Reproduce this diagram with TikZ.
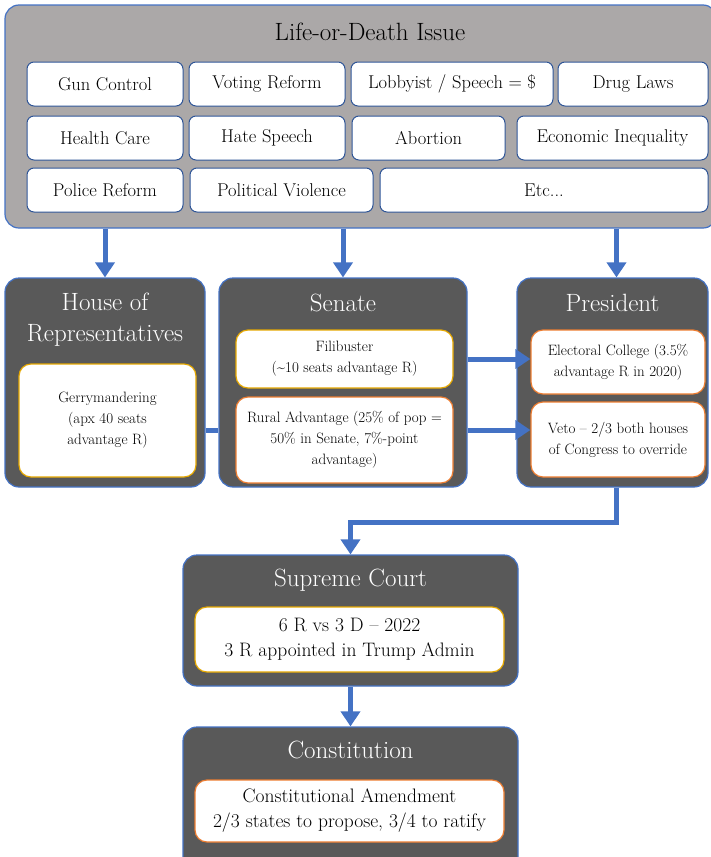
\documentclass[tikz,border=0pt]{standalone}
\usepackage{fontspec}
\usetikzlibrary{arrows.meta,positioning}

\definecolor{flowblue}{HTML}{4472C4}
\definecolor{itemblue}{HTML}{2F5597}
\definecolor{issuegray}{HTML}{ABA8A8}
\definecolor{darkpanel}{HTML}{595959}
\definecolor{goldline}{HTML}{E6A800}
\definecolor{orangeline}{HTML}{ED7D31}

\tikzset{
  panel/.style={draw=flowblue, line width=1.2pt, fill=darkpanel, rounded corners=14pt, inner sep=0pt},
  issue/.style={draw=itemblue, line width=1pt, fill=white, rounded corners=7pt, minimum height=44pt, inner sep=0pt, font=\fontsize{18.5}{22}\selectfont},
  detail/.style={fill=white, line width=1.2pt, rounded corners=12pt, inner sep=0pt, align=center, font=\fontsize{15}{21}\selectfont},
  paneltitle/.style={text=white, align=center, font=\fontsize{25}{31}\selectfont},
  flow/.style={draw=flowblue, line width=5pt, -{Triangle[width=19pt,length=15pt]}},
  link/.style={draw=flowblue, line width=5pt},
}

\begin{document}
\begin{tikzpicture}[x=1pt,y=-1pt]
  \useasboundingbox (0,0) rectangle (710,857);

  % issues
  \node[draw=flowblue, line width=1.2pt, fill=issuegray, rounded corners=14pt, minimum width=712pt, minimum height=223pt] (issues) at (361,116.5) {};
  \node[font=\fontsize{25}{30}\selectfont] (issuetitle) at (370,32) {Life-or-Death Issue};

  \node[issue, minimum width=156pt] (gun) at (105,84) {Gun Control};
  \node[issue, minimum width=156pt] (voting) at (267,84) {Voting Reform};
  \node[issue, minimum width=202pt] (lobby) at (452,84) {Lobbyist / Speech = \$};
  \node[issue, minimum width=150pt] (drug) at (633,84) {Drug Laws};

  \node[issue, minimum width=156pt] (health) at (105,138) {Health Care};
  \node[issue, minimum width=156pt] (hate) at (267,138) {Hate Speech};
  \node[issue, minimum width=153pt] (abortion) at (428.5,138) {Abortion};
  \node[issue, minimum width=191pt] (economy) at (612.5,138) {Economic Inequality};

  \node[issue, minimum width=156pt] (police) at (105,190) {Police Reform};
  \node[issue, minimum width=183pt] (violence) at (281.5,190) {Political Violence};
  \node[issue, minimum width=328pt] (etc) at (544,190) {Etc...};

  % branches
  \node[panel, minimum width=200pt, minimum height=209pt] (House) at (105,382.5) {};
  \node[panel, minimum width=248pt, minimum height=209pt] (Senate) at (343,382.5) {};
  \node[panel, minimum width=191pt, minimum height=209pt] (President) at (612.5,382.5) {};

  \node[paneltitle] (housetitle) at (105,320) {House of\\Representatives};
  \node[paneltitle] (senatetitle) at (343,303) {Senate};
  \node[paneltitle] (presidenttitle) at (612.5,303) {President};

  \node[detail, draw=goldline, minimum width=177pt, minimum height=113pt] (Gerry) at (107.5,420.5) {Gerrymandering\\(apx 40 seats\\advantage R)};
  \node[detail, draw=goldline, minimum width=217pt, minimum height=58pt] (Filibuster) at (344.5,359) {Filibuster\\(\textasciitilde10 seats advantage R)};
  \node[detail, draw=orangeline, minimum width=217pt, minimum height=86pt] (Rural) at (344.5,440) {Rural Advantage (25\% of pop =\\50\% in Senate, 7\%-point\\advantage)};
  \node[detail, draw=orangeline, minimum width=174pt, minimum height=64pt] (Electoral) at (618,362) {Electoral College (3.5\%\\advantage R in 2020)};
  \node[detail, draw=orangeline, minimum width=174pt, minimum height=75pt] (Veto) at (618,439.5) {Veto – 2/3 both houses\\of Congress to override};

  % court and constitution
  \node[panel, minimum width=335pt, minimum height=131pt] (Supreme) at (350.5,620.5) {};
  \node[paneltitle] (supremetitle) at (350.5,580) {Supreme Court};
  \node[detail, draw=goldline, minimum width=309pt, minimum height=65pt, font=\fontsize{19.5}{25}\selectfont] (Court) at (349.5,639.5) {6 R vs 3 D – 2022\\3 R appointed in Trump Admin};

  \node[panel, minimum width=335pt, minimum height=150pt] (Constitution) at (350.5,802) {};
  \node[paneltitle] (constitutiontitle) at (350.5,750) {Constitution};
  \node[detail, draw=orangeline, minimum width=309pt, minimum height=62pt, font=\fontsize{19.5}{25}\selectfont] (Amendment) at (349.5,811) {Constitutional Amendment\\2/3 states to propose, 3/4 to ratify};

  % connectors
  \draw[flow] (issues.south -| House.north) -- (House.north);
  \draw[flow] (issues.south -| Senate.north) -- (Senate.north);
  \draw[flow] ([xshift=4pt]issues.south -| President.north) -- ([xshift=4pt]President.north);
  \draw[link] ([yshift=10pt]House.east |- Rural.west) -- ([yshift=10pt]Senate.west |- Rural.west);
  \draw[flow] (Senate.east |- Filibuster.east) -- (Electoral.west |- Filibuster.east);
  \draw[flow] ([yshift=10pt]Senate.east |- Rural.east) -- ([yshift=10pt]Veto.west |- Rural.east);
  \draw[flow] ([xshift=4pt]President.south) -- ++(0,35) -| (Supreme.north);
  \draw[flow] (Supreme.south) -- (Constitution.north);
\end{tikzpicture}
\end{document}
